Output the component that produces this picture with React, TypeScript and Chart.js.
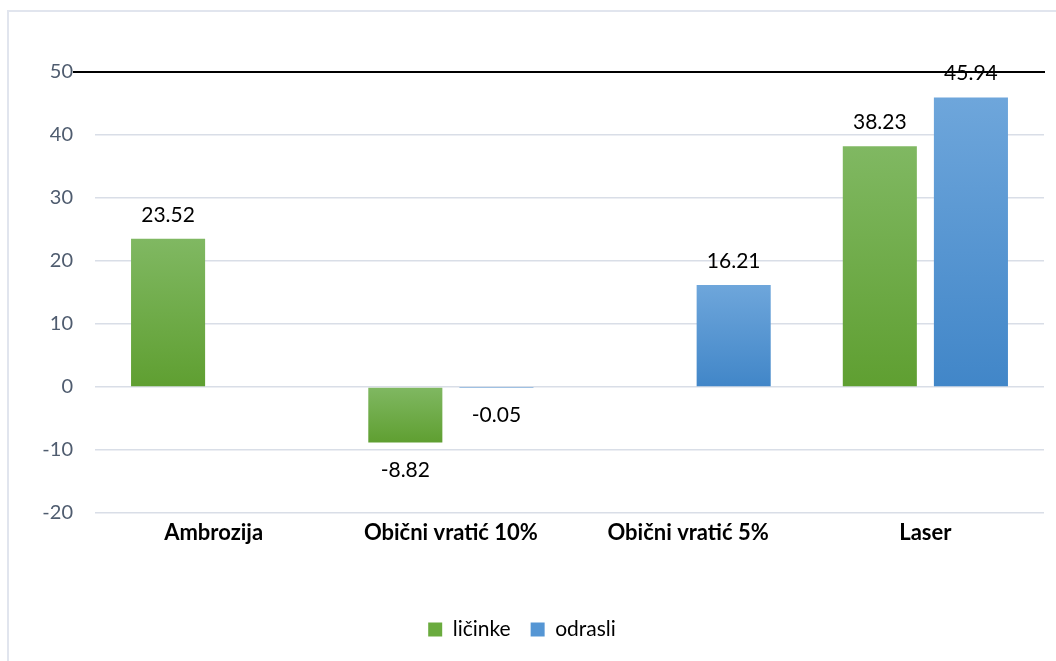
import React, { useEffect, useRef } from "react";
import { Chart, registerables } from "chart.js";

Chart.register(...registerables);

const categories = ["Ambrozija", "Obični vratić 10%", "Obični vratić 5%", "Laser"];
const licinkeValues: (number | null)[] = [23.52, -8.82, null, 38.23];
const odrasliValues: (number | null)[] = [null, -0.05, 16.21, 45.94];
const seriesNames = ["ličinke", "odrasli"];
const yTicks = { min: -20, max: 50, step: 10 };

const FONT = "Lato, 'Open Sans', sans-serif";
const GREEN = { top: "#80b862", bottom: "#5f9f31", solid: "#6aab3e" };
const BLUE = { top: "#6ea6db", bottom: "#4186c8", solid: "#5596d4" };

function gradientFill(colors: { top: string; bottom: string; solid: string }) {
  return (ctx: any) => {
    const chart = ctx.chart;
    const v = ctx.raw;
    if (!chart.chartArea || v === null || v === undefined || !chart.scales?.y) return colors.solid;
    const y = chart.scales.y;
    const p1 = y.getPixelForValue(v);
    const p0 = y.getPixelForValue(0);
    const top = Math.min(p0, p1);
    const bot = Math.max(p0, p1);
    if (bot - top < 1) return colors.solid;
    const g = chart.ctx.createLinearGradient(0, top, 0, bot);
    g.addColorStop(0, colors.top);
    g.addColorStop(1, colors.bottom);
    return g;
  };
}

const valueLabels = {
  id: "valueLabels",
  afterDatasetsDraw(chart: any) {
    const { ctx } = chart;
    ctx.save();
    ctx.font = `21px ${FONT}`;
    ctx.fillStyle = "#000";
    ctx.textAlign = "center";
    ctx.textBaseline = "middle";
    chart.data.datasets.forEach((ds: any, di: number) => {
      const meta = chart.getDatasetMeta(di);
      meta.data.forEach((el: any, i: number) => {
        const v = ds.data[i];
        if (v === null || v === undefined) return;
        const y = v >= 0 ? el.y - 24 : el.y + 28;
        ctx.fillText(v.toFixed(2), el.x, y);
      });
    });
    ctx.restore();
  },
};

const topLine = {
  id: "topLine",
  afterDatasetsDraw(chart: any) {
    const { ctx, chartArea } = chart;
    const y = Math.round(chart.scales.y.getPixelForValue(yTicks.max));
    ctx.save();
    ctx.strokeStyle = "#000";
    ctx.lineWidth = 2;
    ctx.beginPath();
    ctx.moveTo(chartArea.left - 22, y);
    ctx.lineTo(chartArea.right + 1, y);
    ctx.stroke();
    ctx.restore();
  },
};

export default function App() {
  const ref = useRef<HTMLCanvasElement>(null);
  useEffect(() => {
    if (!ref.current) return;
    const chart = new Chart(ref.current, {
      type: "bar",
      data: {
        labels: categories,
        datasets: [
          {
            label: seriesNames[0],
            data: licinkeValues,
            backgroundColor: gradientFill(GREEN),
            categoryPercentage: 0.768,
            barPercentage: 0.813,
          },
          {
            label: seriesNames[1],
            data: odrasliValues,
            backgroundColor: gradientFill(BLUE),
            categoryPercentage: 0.768,
            barPercentage: 0.813,
          },
        ],
      },
      options: {
        animation: false,
        responsive: false,
        maintainAspectRatio: false,
        layout: { padding: { left: 0, right: 12, top: 72, bottom: 11 } },
        plugins: {
          tooltip: { enabled: false },
          legend: {
            position: "bottom",
            labels: {
              boxWidth: 14,
              boxHeight: 14,
              padding: 20,
              color: "#000",
              font: { family: FONT, size: 21 },
              generateLabels: (c: any) =>
                c.data.datasets.map((ds: any, i: number) => ({
                  text: ds.label,
                  fillStyle: i === 0 ? GREEN.solid : BLUE.solid,
                  strokeStyle: i === 0 ? GREEN.solid : BLUE.solid,
                  lineWidth: 0,
                  hidden: false,
                  datasetIndex: i,
                  fontColor: "#000",
                })),
            },
          },
        },
        scales: {
          x: {
            grid: { display: false, drawTicks: false },
            border: { display: false },
            ticks: {
              color: "#000",
              padding: 7,
              font: { family: FONT, size: 22, weight: "bold" },
              maxRotation: 0,
              autoSkip: false,
            },
            afterFit: (s: any) => {
              s.height = 86;
            },
          },
          y: {
            min: yTicks.min,
            max: yTicks.max,
            ticks: {
              stepSize: yTicks.step,
              color: "#4f5c6f",
              padding: 22,
              font: { family: FONT, size: 20 },
            },
            grid: { color: "#d9dee7", lineWidth: 1.5, drawTicks: false },
            border: { display: false },
            afterFit: (s: any) => {
              s.width = 95;
            },
          },
        },
      },
      plugins: [topLine, valueLabels],
    });
    return () => chart.destroy();
  }, []);

  return (
    <div style={{ position: "fixed", left: 0, top: 0, width: 1056, height: 661, overflow: "hidden", background: "#fff" }}>
      <div
        style={{
          position: "absolute",
          left: 7,
          top: 10,
          width: 1200,
          height: 800,
          borderLeft: "2px solid #e1e5ee",
          borderTop: "2px solid #e1e5ee",
        }}
      />
      <canvas ref={ref} width={1056} height={661} style={{ position: "absolute", left: 0, top: 0, width: 1056, height: 661 }} />
    </div>
  );
}
